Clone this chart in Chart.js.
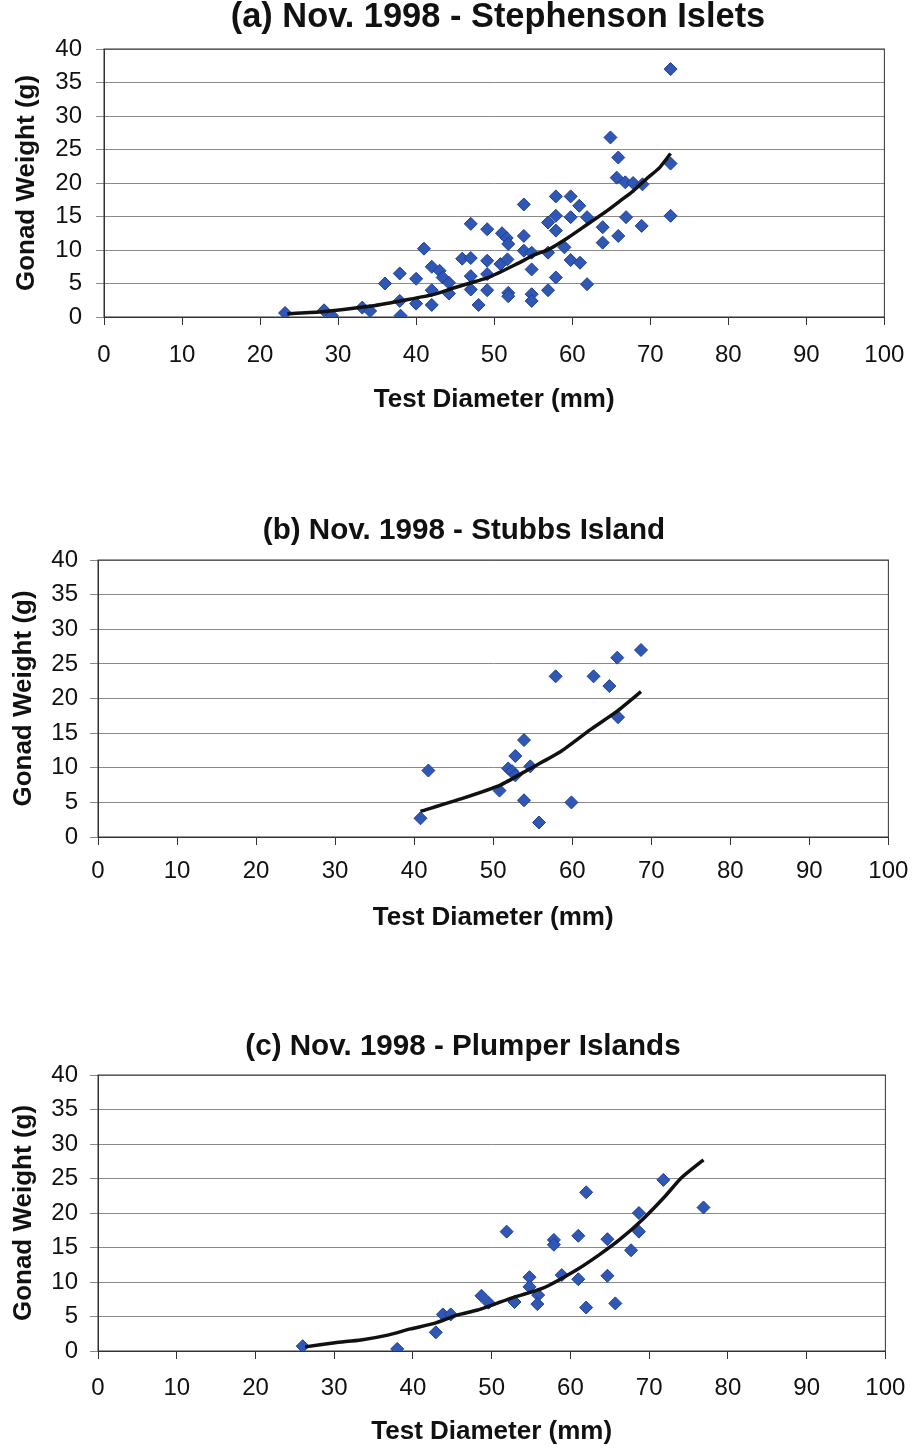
<!DOCTYPE html>
<html>
<head>
<meta charset="utf-8">
<script src="https://cdn.jsdelivr.net/npm/chart.js@4.4.0/dist/chart.umd.min.js"></script>
<style>
  body { margin: 0; background: #fff; }
  #wrap { position: relative; width: 920px; height: 1449px; }
  canvas { position: absolute; left: 0; }
</style>
</head>
<body>
<div id="wrap">
  <canvas id="chartA" width="920" height="420" style="top:0px"></canvas>
  <canvas id="chartB" width="920" height="430" style="top:510px"></canvas>
  <canvas id="chartC" width="920" height="423" style="top:1026px"></canvas>
</div>
<script>
// (a) Stephenson Islets
const diameterA = [23.2, 28.2, 29.2, 33.1, 34.1, 36, 37.9, 37.9, 38, 40, 40, 41, 42, 42, 42, 43, 43.4, 44.2, 44.2, 45.9,
  47, 47, 47, 47, 48, 49.1, 49.1, 49.1, 49.1, 50.8, 51, 51.6, 51.7, 51.8, 51.8, 51.8, 53.8, 53.8, 53.8, 54.8,
  54.8, 54.8, 54.8, 56.9, 56.9, 56.9, 57.9, 57.9, 57.9, 57.9, 59, 59.8, 59.8, 59.8, 60.9, 61, 61.9, 61.9, 63.9, 63.9,
  64.9, 65.7, 65.9, 65.9, 66.8, 66.9, 67.8, 68.9, 69, 72.6, 72.6, 72.6];
const weightA = [0.6, 1.0, 0.2, 1.4, 0.9, 5.0, 6.5, 2.4, 0.2, 5.7, 2.0, 10.2, 7.5, 4.0, 1.8, 6.9, 5.9, 5.1, 3.5, 8.7,
  13.9, 8.8, 6.1, 4.1, 1.8, 13.1, 8.4, 6.4, 4.0, 7.9, 12.5, 11.8, 8.6, 10.9, 3.6, 3.1, 16.8, 12.1, 9.9, 9.6,
  7.1, 3.4, 2.4, 14.1, 9.6, 4.0, 18.0, 15.1, 12.9, 5.9, 10.4, 18.0, 14.9, 8.5, 16.6, 8.1, 14.9, 4.9, 13.4, 11.1,
  26.8, 20.8, 23.8, 12.1, 20.1, 14.9, 20.0, 13.6, 19.8, 37.0, 22.9, 15.1];
const trendXA = [23.5, 28, 34, 38, 42, 45, 47.6, 49.3, 52.7, 55.2, 57, 59.4, 61.9, 64.4, 66.1, 67.8, 69.5, 71.2, 72.6];
const trendYA = [0.5, 0.8, 1.6, 2.4, 3.3, 4.4, 5.3, 5.9, 7.8, 9.3, 10.1, 11.8, 13.8, 15.8, 17.3, 18.8, 20.6, 22.3, 24.4];

// (b) Stubbs Island
const diameterB = [40.8, 41.8, 50.8, 51.9, 52.4, 52.8, 52.8, 53.9, 53.9, 54.7, 55.8, 57.9, 59.9, 62.7, 64.7, 65.7, 65.8, 68.7];
const weightB = [2.7, 9.6, 6.7, 9.9, 9.5, 8.9, 11.7, 14.0, 5.3, 10.2, 2.1, 23.2, 5.0, 23.2, 21.8, 25.9, 17.3, 27.0];
const trendXB = [40.8, 45.9, 50.9, 54.7, 58.5, 62.3, 65.6, 68.7];
const trendYB = [3.7, 5.5, 7.5, 9.9, 12.3, 15.5, 18.1, 21.0];

// (c) Plumper Islands
const diameterC = [26, 38, 42.9, 43.8, 44.8, 48.7, 49.6, 51.9, 52.9, 54.8, 54.8, 55.9, 55.8, 57.9, 57.9, 58.9, 61, 61,
  62, 62, 64.7, 64.7, 65.7, 67.7, 68.7, 68.7, 71.8, 76.9];
const weightC = [0.7, 0.3, 2.7, 5.3, 5.3, 8.0, 7.0, 17.3, 7.1, 10.7, 9.3, 8.1, 6.8, 16.1, 15.4, 11.0, 16.7, 10.4,
  23.0, 6.3, 16.2, 10.9, 6.9, 14.6, 20.0, 17.3, 24.8, 20.8];
const trendXC = [26.3, 30.1, 33.4, 36.8, 39.7, 42.7, 45.6, 48.1, 50.4, 52.3, 56.5, 60.7, 63.6, 66.2, 69.1, 72, 74.1, 76.9];
const trendYC = [0.6, 1.2, 1.6, 2.3, 3.2, 4.0, 5.2, 5.9, 6.8, 7.6, 9.1, 11.7, 13.9, 16.1, 19.0, 22.4, 25.1, 27.7];

const titles = ['(a) Nov. 1998 - Stephenson Islets', '(b) Nov. 1998 - Stubbs Island', '(c) Nov. 1998 - Plumper Islands'];
const xTitle = 'Test Diameter (mm)';
const yTitle = 'Gonad Weight (g)';

const FONT = '"Liberation Sans", Arial, Helvetica, sans-serif';
const AXIS_TITLE_SIZE = 26, TICK_SIZE = 24, TICK_LEN = 8;

function pairs(xs, ys) {
  return xs.map((x, i) => ({ x: x, y: ys[i] }));
}

// plot frame around the chart area
const framePlugin = {
  id: 'frame',
  beforeDatasetsDraw(chart) {
    const a = chart.chartArea, ctx = chart.ctx;
    ctx.save();
    ctx.strokeStyle = '#333';
    ctx.lineWidth = 1;
    ctx.strokeRect(a.left, a.top, a.right - a.left, a.bottom - a.top);
    ctx.restore();
  }
};

// panel heading, placed like the original (not always centred on the plot)
const panelTitlePlugin = {
  id: 'panelTitle',
  afterDraw(chart, args, opts) {
    const ctx = chart.ctx;
    ctx.save();
    ctx.font = 'bold ' + opts.size + 'px ' + FONT;
    ctx.fillStyle = '#111';
    ctx.textAlign = 'center';
    ctx.textBaseline = 'middle';
    ctx.fillText(opts.text, opts.x, opts.y);
    ctx.restore();
  }
};

function makeChart(id, title, xs, ys, txs, tys, g) {
  const axLH = AXIS_TITLE_SIZE * 1.2, tickLH = TICK_SIZE * 1.2;
  const H = document.getElementById(id).height;
  return new Chart(document.getElementById(id), {
    type: 'scatter',
    data: {
      datasets: [{
        type: 'line',
        data: pairs(txs, tys),
        borderColor: '#111',
        borderWidth: 3.5,
        pointRadius: 0,
        tension: 0.2,
        fill: false
      }, {
        data: pairs(xs, ys),
        pointStyle: 'rectRot',
        pointRadius: 6.5,
        backgroundColor: '#2f57b3',
        borderColor: '#1d3f96',
        borderWidth: 1
      }]
    },
    options: {
      responsive: false,
      animation: false,
      layout: { padding: { left: 0, right: 920 - g.right, top: g.top, bottom: 0 } },
      plugins: {
        legend: { display: false },
        tooltip: { enabled: false },
        panelTitle: { text: title, x: g.titleX, y: g.titleY, size: g.titleSize }
      },
      scales: {
        x: {
          type: 'linear',
          min: 0, max: 100,
          ticks: { stepSize: 10, color: '#111', font: { family: FONT, size: TICK_SIZE },
                   padding: g.xLabelY - g.bottom - TICK_LEN - tickLH / 2, maxRotation: 0 },
          grid: { drawOnChartArea: false, tickLength: TICK_LEN, color: '#333' },
          border: { color: '#333' },
          title: { display: true, text: xTitle, color: '#111',
                   font: { family: FONT, size: AXIS_TITLE_SIZE, weight: 'bold' },
                   padding: { top: 0, bottom: H - g.xTitleY - axLH / 2 } },
          afterFit: s => { s.height = H - g.bottom; }
        },
        y: {
          min: 0, max: 40,
          ticks: { stepSize: 5, color: '#111', font: { family: FONT, size: TICK_SIZE },
                   padding: g.left - TICK_LEN - g.yLabelRight },
          grid: { color: '#8a8a8a', tickLength: TICK_LEN },
          border: { color: '#333' },
          title: { display: true, text: yTitle, color: '#111',
                   font: { family: FONT, size: AXIS_TITLE_SIZE, weight: 'bold' },
                   padding: { top: g.yTitleX - axLH / 2, bottom: 0 } },
          afterFit: s => { s.width = g.left; }
        }
      }
    },
    plugins: [framePlugin, panelTitlePlugin]
  });
}

makeChart('chartA', titles[0], diameterA, weightA, trendXA, trendYA,
  { left: 104, right: 893, top: 49, bottom: 317, titleX: 498, titleY: 18, titleSize: 34.4,
    xLabelY: 355, xTitleY: 400, yTitleX: 27, yLabelRight: 82 });
makeChart('chartB', titles[1], diameterB, weightB, trendXB, trendYB,
  { left: 98, right: 891, top: 50, bottom: 327, titleX: 464, titleY: 21, titleSize: 29.6,
    xLabelY: 361, xTitleY: 408, yTitleX: 24, yLabelRight: 78 });
makeChart('chartC', titles[2], diameterC, weightC, trendXC, trendYC,
  { left: 98, right: 890, top: 49, bottom: 325, titleX: 463, titleY: 21, titleSize: 29.6,
    xLabelY: 362, xTitleY: 406, yTitleX: 24, yLabelRight: 78 });
</script>
</body>
</html>
